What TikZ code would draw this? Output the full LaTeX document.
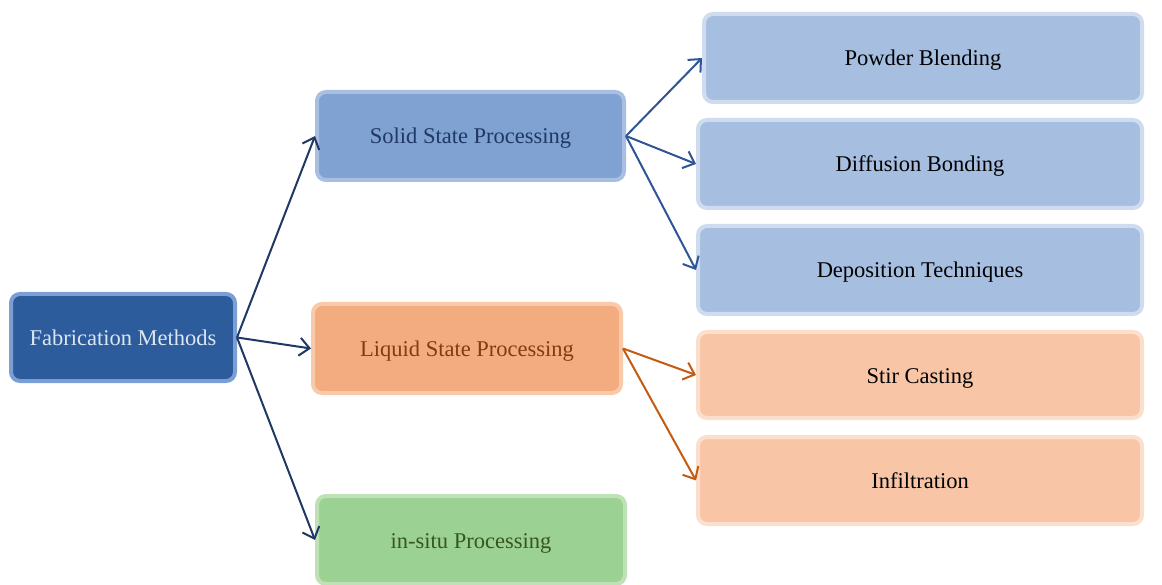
\documentclass[tikz,border=0pt]{standalone}
\usepackage{fontspec}
\setmainfont{Liberation Serif}
\usetikzlibrary{arrows.meta}
\definecolor{fabfill}{HTML}{2C5C9C}
\definecolor{fabline}{HTML}{7B9ED4}
\definecolor{fabtext}{HTML}{DCE6F2}
\definecolor{solfill}{HTML}{7FA2D2}
\definecolor{solline}{HTML}{A8BFE2}
\definecolor{soltext}{HTML}{203864}
\definecolor{subbfill}{HTML}{A6BEE0}
\definecolor{subbline}{HTML}{CFDCEF}
\definecolor{liqfill}{HTML}{F3AC80}
\definecolor{liqline}{HTML}{F8CAAA}
\definecolor{liqtext}{HTML}{843C0C}
\definecolor{suboFill}{HTML}{F8C6A6}
\definecolor{suboline}{HTML}{FBDFCC}
\definecolor{insfill}{HTML}{9CD194}
\definecolor{insline}{HTML}{BEE2B6}
\definecolor{instext}{HTML}{375623}
\definecolor{arrnavy}{HTML}{1F3864}
\definecolor{arrblue}{HTML}{2F5597}
\definecolor{arrorange}{HTML}{C55A11}
\tikzset{
  box/.style={rectangle, rounded corners=9pt, line width=4pt, inner sep=0pt,
    text height=16pt, text depth=0pt,
    font=\fontsize{22.5}{27}\selectfont},
  fabbox/.style={box, fill=fabfill, draw=fabline, text=fabtext},
  solbox/.style={box, fill=solfill, draw=solline, text=soltext},
  bluesub/.style={box, fill=subbfill, draw=subbline, text=black},
  liqbox/.style={box, fill=liqfill, draw=liqline, text=liqtext},
  orangesub/.style={box, fill=suboFill, draw=suboline, text=black},
  insbox/.style={box, fill=insfill, draw=insline, text=instext},
  conn/.style={line width=2pt, -{Straight Barb[length=10pt,width=18pt,line width=2pt]}},
}
\begin{document}
\begin{tikzpicture}[x=1pt,y=-1pt]
\useasboundingbox (0,0) rectangle (1162,585);
\clip (0,0) rectangle (1162,585);
\fill[white] (0,0) rectangle (1162,585);
\node[fabbox, minimum width=224pt, minimum height=87pt] (fab) at (123,337.5) {Fabrication Methods};
\node[solbox, minimum width=307pt, minimum height=88pt] (sol) at (470.5,136) {Solid State Processing};
\node[liqbox, minimum width=308pt, minimum height=89pt] (liq) at (467,348.5) {Liquid State Processing};
\node[insbox, minimum width=308pt, minimum height=88pt] (ins) at (471,540) {in-situ Processing};
\node[bluesub, minimum width=438pt, minimum height=88pt] (pow) at (923,58) {Powder Blending};
\node[bluesub, minimum width=444pt, minimum height=88pt] (dif) at (920,164) {Diffusion Bonding};
\node[bluesub, minimum width=444pt, minimum height=88pt] (dep) at (920,270) {Deposition Techniques};
\node[orangesub, minimum width=444pt, minimum height=86pt] (sti) at (920,375) {Stir Casting};
\node[orangesub, minimum width=444pt, minimum height=87pt] (inf) at (920,480.5) {Infiltration};
\draw[conn, arrnavy] (fab.east) -- (sol.west);
\draw[conn, arrnavy] (fab.east) -- (liq.west);
\draw[conn, arrnavy] (fab.east) -- (ins.west);
\draw[conn, arrblue] (sol.east) -- (pow.west);
\draw[conn, arrblue] (sol.east) -- (dif.west);
\draw[conn, arrblue] (sol.east) -- (dep.west);
\draw[conn, arrorange] (liq.east) -- (sti.west);
\draw[conn, arrorange] (liq.east) -- (inf.west);
\end{tikzpicture}
\end{document}
